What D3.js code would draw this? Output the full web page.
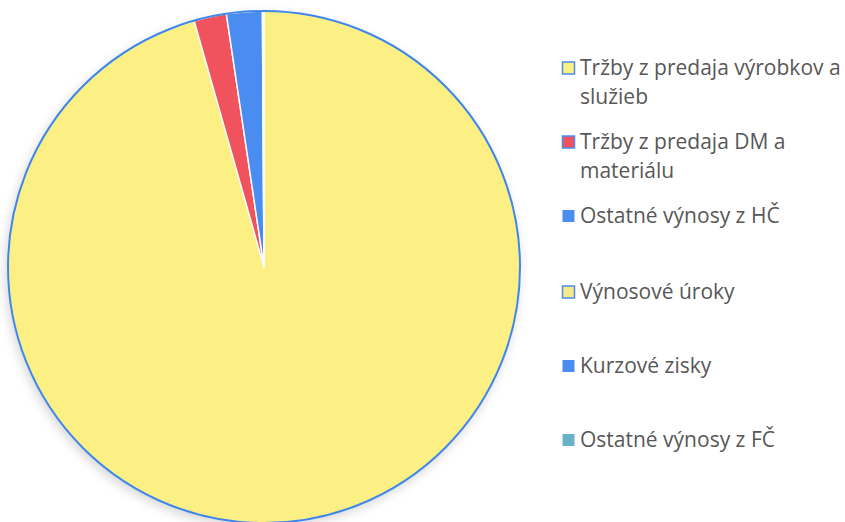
<!DOCTYPE html>
<html>
<head>
<meta charset="utf-8">
<script src="https://cdn.jsdelivr.net/npm/d3@7"></script>
<style>
  body { margin: 0; background: #fff; }
  svg { display: block; }
</style>
</head>
<body>
<div id="chart"></div>
<script>
const width = 845;
const height = 522;

// shares of the revenue (%)
const categories = [
  'Tržby z predaja výrobkov a služieb',
  'Tržby z predaja DM a materiálu',
  'Ostatné výnosy z HČ',
  'Výnosové úroky',
  'Kurzové zisky',
  'Ostatné výnosy z FČ',
];
const values = [95.6, 2.05, 2.25, 0.02, 0.05, 0.03];
const legendLines = [
  ['Tržby z predaja výrobkov a', 'služieb'],
  ['Tržby z predaja DM a', 'materiálu'],
  ['Ostatné výnosy z HČ'],
  ['Výnosové úroky'],
  ['Kurzové zisky'],
  ['Ostatné výnosy z FČ'],
];
const colors = ['#fcf084', '#f0525e', '#4b8cf0', '#f7e88a', '#4b8cf0', '#68b2c8'];
const borders = ['#4b8cf0', '#4b8cf0', null, '#4b8cf0', null, null];

const cx = 264;
const cy = 267;
const radius = 256;

const svg = d3.select('#chart').append('svg').attr('width', width).attr('height', height);

const data = categories.map((c, i) => ({ name: c, value: values[i], color: colors[i] }));

const pie = d3.pie().sort(null).value((d) => d.value);
const arc = d3.arc().innerRadius(0).outerRadius(radius);

const defs = svg.append('defs');
const shadow = defs.append('filter').attr('id', 'shadow').attr('x', '-10%').attr('y', '-10%').attr('width', '120%').attr('height', '120%');
shadow.append('feGaussianBlur').attr('in', 'SourceAlpha').attr('stdDeviation', 6);
shadow.append('feOffset').attr('dx', -2).attr('dy', 4).attr('result', 'blur');
shadow.append('feComponentTransfer').append('feFuncA').attr('type', 'linear').attr('slope', 0.18);
const merge = shadow.append('feMerge');
merge.append('feMergeNode');
merge.append('feMergeNode').attr('in', 'SourceGraphic');

const g = svg.append('g').attr('transform', `translate(${cx},${cy})`);

g.append('circle').attr('r', radius).attr('fill', '#fcf084').attr('filter', 'url(#shadow)');

g.selectAll('path.slice')
  .data(pie(data))
  .join('path')
  .attr('class', 'slice')
  .attr('d', arc)
  .attr('fill', (d) => d.data.color)
  .attr('stroke', '#fafafa')
  .attr('stroke-width', 1.5)
  .attr('stroke-linejoin', 'round');

g.append('circle')
  .attr('r', radius)
  .attr('fill', 'none')
  .attr('stroke', '#3f86ea')
  .attr('stroke-width', 2);

// legend
const legendX = 562;
const legendTop = [68, 142, 216, 292, 366, 440];
const lineGap = 29;

const legend = svg
  .append('g')
  .selectAll('g')
  .data(data)
  .join('g')
  .attr('transform', (d, i) => `translate(${legendX},${legendTop[i]})`);

legend
  .append('rect')
  .attr('x', 0.5)
  .attr('y', -6)
  .attr('width', 12)
  .attr('height', 12)
  .attr('fill', (d) => d.color)
  .attr('stroke', (d, i) => borders[i] || 'none')
  .attr('stroke-width', 1.5);

legend
  .append('text')
  .attr('x', 18)
  .attr('y', 0)
  .attr('fill', '#575757')
  .style('font-family', 'Open Sans, sans-serif')
  .style('font-size', '21px')
  .selectAll('tspan')
  .data((d, i) => legendLines[i])
  .join('tspan')
  .attr('x', 18)
  .attr('y', (d, j) => j * lineGap)
  .attr('dy', '0.35em')
  .text((d) => d);
</script>
</body>
</html>
